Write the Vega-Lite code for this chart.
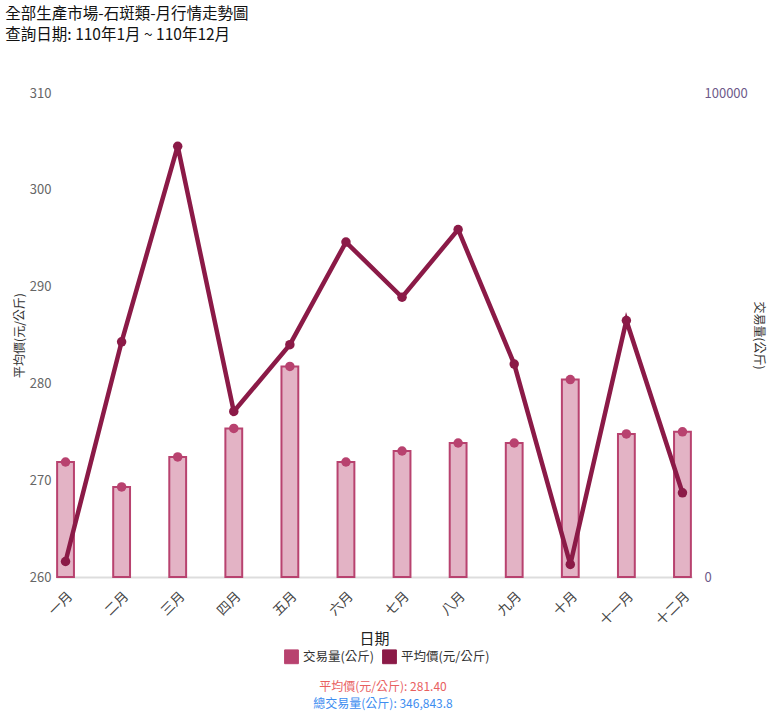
{
  "$schema": "https://vega.github.io/schema/vega-lite/v6.json",
  "padding": {"left": 5, "top": 6, "right": 5, "bottom": 5},
  "config": {
    "font": "Noto Sans CJK TC",
    "view": {"stroke": null},
    "axis": {"labelFont": "Noto Sans CJK TC", "titleFont": "Noto Sans CJK TC"},
    "legend": {"labelFont": "Noto Sans CJK TC"}
  },
  "title": {
    "text": ["全部生產市場-石斑類-月行情走勢圖", "查詢日期: 110年1月 ~ 110年12月"],
    "anchor": "start",
    "frame": "bounds",
    "fontSize": 15.5,
    "fontWeight": "normal",
    "color": "#111111",
    "lineHeight": 21,
    "offset": 44,
    "dx": -8
  },
  "vconcat": [
    {
      "width": 636,
      "height": 484,
      "title": {
        "text": "平均價(元/公斤): 281.40",
        "subtitle": "總交易量(公斤): 346,843.8",
        "orient": "bottom",
        "anchor": "middle",
        "fontSize": 12,
        "fontWeight": "normal",
        "color": "#e8605f",
        "subtitleFontSize": 12,
        "subtitleColor": "#3d8df0",
        "subtitlePadding": 5,
        "offset": 36,
        "dx": 9
      },
      "data": {
        "values": [
          {"month": "一月", "volume": 23760, "price": 261.6},
          {"month": "二月", "volume": 18600, "price": 284.3},
          {"month": "三月", "volume": 24800, "price": 304.5},
          {"month": "四月", "volume": 30700, "price": 277.1},
          {"month": "五月", "volume": 43500, "price": 284.0},
          {"month": "六月", "volume": 23760, "price": 294.6},
          {"month": "七月", "volume": 26030, "price": 288.9},
          {"month": "八月", "volume": 27690, "price": 295.9},
          {"month": "九月", "volume": 27690, "price": 282.0},
          {"month": "十月", "volume": 40800, "price": 261.3},
          {"month": "十一月", "volume": 29550, "price": 286.5},
          {"month": "十二月", "volume": 30000, "price": 268.7}
        ]
      },
      "encoding": {
        "x": {
          "field": "month",
          "type": "ordinal",
          "sort": ["一月","二月","三月","四月","五月","六月","七月","八月","九月","十月","十一月","十二月"],
          "scale": {"paddingInner": 0.7, "paddingOuter": 0.02},
          "axis": {
            "title": "日期",
            "titleFontSize": 15,
            "titleFontWeight": "normal",
            "titleColor": "#222222",
            "titlePadding": 4,
            "labelAngle": -45,
            "labelFontSize": 13.5,
            "labelColor": "#444444",
            "labelPadding": 12,
            "ticks": false,
            "domainColor": "#dddddd",
            "domainWidth": 2
          }
        }
      },
      "layer": [
        {
          "mark": {"type": "bar", "fillOpacity": 0.4, "stroke": "#b8426f", "strokeWidth": 2},
          "encoding": {
            "y": {
              "field": "volume",
              "type": "quantitative",
              "scale": {"domain": [0, 100000]},
              "axis": {
                "orient": "right",
                "title": "交易量(公斤)",
                "titleFontSize": 12,
                "titleFontWeight": "normal",
                "titleColor": "#333333",
                "titlePadding": 4,
                "values": [0, 100000],
                "format": "d",
                "grid": false,
                "domain": false,
                "ticks": false,
                "labelFontSize": 13,
                "labelColor": "#6e5a8a",
                "labelPadding": 12
              }
            },
            "color": {
              "datum": "交易量(公斤)",
              "scale": {"domain": ["交易量(公斤)", "平均價(元/公斤)"], "range": ["#b8426f", "#8b1a47"]},
              "legend": {
                "orient": "none",
                "legendX": 228,
                "legendY": 556,
                "direction": "horizontal",
                "title": null,
                "symbolType": "square",
                "symbolSize": 190,
                "symbolStrokeColor": "#cccccc",
                "symbolStrokeWidth": 1,
                "symbolOpacity": 1,
                "labelFontSize": 12.5,
                "labelColor": "#333333",
                "columnPadding": 6
              }
            }
          }
        },
        {
          "mark": {"type": "point", "filled": true, "size": 90, "opacity": 1, "color": "#b8426f"},
          "encoding": {
            "y": {"field": "volume", "type": "quantitative", "scale": {"domain": [0, 100000]}, "axis": null}
          }
        },
        {
          "mark": {"type": "line", "strokeWidth": 4.5, "color": "#8b1a47"},
          "encoding": {
            "y": {
              "field": "price",
              "type": "quantitative",
              "scale": {"domain": [260, 310], "zero": false},
              "axis": {
                "orient": "left",
                "title": "平均價(元/公斤)",
                "titleFontSize": 12,
                "titleFontWeight": "normal",
                "titleColor": "#333333",
                "titlePadding": 3,
                "values": [260, 270, 280, 290, 300, 310],
                "gridColor": "#dddddd",
                "domain": false,
                "ticks": false,
                "labelFontSize": 13,
                "labelColor": "#666666",
                "labelPadding": 5
              }
            },
            "color": {"datum": "平均價(元/公斤)"}
          }
        },
        {
          "mark": {"type": "point", "filled": true, "size": 90, "opacity": 1, "color": "#8b1a47"},
          "encoding": {
            "y": {"field": "price", "type": "quantitative", "scale": {"domain": [260, 310]}, "axis": null}
          }
        }
      ],
      "resolve": {"scale": {"y": "independent"}}
    }
  ]
}
